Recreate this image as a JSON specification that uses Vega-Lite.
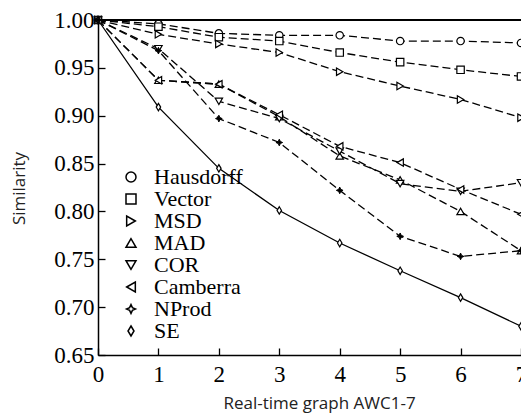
{
  "$schema": "https://vega.github.io/schema/vega-lite/v6.json",
  "width": 423,
  "height": 335,
  "autosize": "none",
  "padding": {"left": 98, "top": 20, "right": 0, "bottom": 61},
  "background": "white",
  "data": {"values": [
    {"x": 0, "series": "Hausdorff", "v": 1.0}, {"x": 1, "series": "Hausdorff", "v": 0.996}, {"x": 2, "series": "Hausdorff", "v": 0.986}, {"x": 3, "series": "Hausdorff", "v": 0.984}, {"x": 4, "series": "Hausdorff", "v": 0.984}, {"x": 5, "series": "Hausdorff", "v": 0.978}, {"x": 6, "series": "Hausdorff", "v": 0.978}, {"x": 7, "series": "Hausdorff", "v": 0.976},
    {"x": 0, "series": "Vector", "v": 1.0}, {"x": 1, "series": "Vector", "v": 0.993}, {"x": 2, "series": "Vector", "v": 0.982}, {"x": 3, "series": "Vector", "v": 0.978}, {"x": 4, "series": "Vector", "v": 0.966}, {"x": 5, "series": "Vector", "v": 0.956}, {"x": 6, "series": "Vector", "v": 0.948}, {"x": 7, "series": "Vector", "v": 0.941},
    {"x": 0, "series": "MSD", "v": 1.0}, {"x": 1, "series": "MSD", "v": 0.985}, {"x": 2, "series": "MSD", "v": 0.975}, {"x": 3, "series": "MSD", "v": 0.966}, {"x": 4, "series": "MSD", "v": 0.946}, {"x": 5, "series": "MSD", "v": 0.931}, {"x": 6, "series": "MSD", "v": 0.917}, {"x": 7, "series": "MSD", "v": 0.898},
    {"x": 0, "series": "MAD", "v": 1.0}, {"x": 1, "series": "MAD", "v": 0.937}, {"x": 2, "series": "MAD", "v": 0.933}, {"x": 3, "series": "MAD", "v": 0.899}, {"x": 4, "series": "MAD", "v": 0.858}, {"x": 5, "series": "MAD", "v": 0.833}, {"x": 6, "series": "MAD", "v": 0.800}, {"x": 7, "series": "MAD", "v": 0.759},
    {"x": 0, "series": "COR", "v": 1.0}, {"x": 1, "series": "COR", "v": 0.970}, {"x": 2, "series": "COR", "v": 0.915}, {"x": 3, "series": "COR", "v": 0.897}, {"x": 4, "series": "COR", "v": 0.863}, {"x": 5, "series": "COR", "v": 0.829}, {"x": 6, "series": "COR", "v": 0.821}, {"x": 7, "series": "COR", "v": 0.830},
    {"x": 0, "series": "Camberra", "v": 1.0}, {"x": 1, "series": "Camberra", "v": 0.937}, {"x": 2, "series": "Camberra", "v": 0.933}, {"x": 3, "series": "Camberra", "v": 0.901}, {"x": 4, "series": "Camberra", "v": 0.868}, {"x": 5, "series": "Camberra", "v": 0.851}, {"x": 6, "series": "Camberra", "v": 0.823}, {"x": 7, "series": "Camberra", "v": 0.797},
    {"x": 0, "series": "NProd", "v": 1.0}, {"x": 1, "series": "NProd", "v": 0.968}, {"x": 2, "series": "NProd", "v": 0.897}, {"x": 3, "series": "NProd", "v": 0.872}, {"x": 4, "series": "NProd", "v": 0.822}, {"x": 5, "series": "NProd", "v": 0.774}, {"x": 6, "series": "NProd", "v": 0.753}, {"x": 7, "series": "NProd", "v": 0.759},
    {"x": 0, "series": "SE", "v": 1.0}, {"x": 1, "series": "SE", "v": 0.909}, {"x": 2, "series": "SE", "v": 0.845}, {"x": 3, "series": "SE", "v": 0.801}, {"x": 4, "series": "SE", "v": 0.767}, {"x": 5, "series": "SE", "v": 0.738}, {"x": 6, "series": "SE", "v": 0.710}, {"x": 7, "series": "SE", "v": 0.680}
  ]},
  "layer": [
    {
      "transform": [{"filter": "datum.series !== 'SE'"}],
      "mark": {"type": "line", "color": "black", "strokeWidth": 1.3, "strokeDash": [8, 4]},
      "encoding": {
        "x": {"field": "x", "type": "quantitative", "scale": {"domain": [0, 7], "nice": false},
          "axis": {"values": [0, 1, 2, 3, 4, 5, 6, 7], "format": "d", "labelFlush": false, "labelOverlap": false, "labelPadding": 15,
            "title": "Real-time graph AWC1-7", "titleX": 221, "titleY": 53, "titleBaseline": "alphabetic"}},
        "y": {"field": "v", "type": "quantitative", "scale": {"domain": [0.65, 1.0], "nice": false, "zero": false},
          "axis": {"values": [0.65, 0.7, 0.75, 0.8, 0.85, 0.9, 0.95, 1.0], "format": ".2f", "labelPadding": 11, "labelOverlap": false,
            "title": "Similarity", "titleX": -70, "titleY": 168, "titleBaseline": "bottom"}},
        "detail": {"field": "series", "type": "nominal"}
      }
    },
    {
      "transform": [{"filter": "datum.series === 'SE'"}],
      "mark": {"type": "line", "color": "black", "strokeWidth": 1.3},
      "encoding": {
        "x": {"field": "x", "type": "quantitative"},
        "y": {"field": "v", "type": "quantitative"}
      }
    },
    {
      "transform": [{"filter": "datum.series !== 'NProd'"}],
      "mark": {"type": "point", "filled": false, "fill": "white", "stroke": "black", "strokeWidth": 1.2, "opacity": 1, "size": 55},
      "encoding": {
        "x": {"field": "x", "type": "quantitative"},
        "y": {"field": "v", "type": "quantitative"},
        "shape": {"field": "series", "type": "nominal",
          "scale": {"domain": ["Hausdorff", "Vector", "MSD", "MAD", "COR", "Camberra", "NProd", "SE"],
            "range": ["circle", "square", "triangle-right", "triangle-up", "triangle-down", "triangle-left",
              "M0,-0.9L0.28,-0.28L0.9,0L0.28,0.28L0,0.9L-0.28,0.28L-0.9,0L-0.28,-0.28Z",
              "M0,-1L0.6,0L0,1L-0.6,0Z"]},
          "legend": {"title": null, "orient": "none", "legendX": 22, "legendY": 146, "padding": 0,
            "labelFont": "Liberation Serif", "labelFontSize": 22, "labelColor": "black", "labelOffset": 12, "labelLimit": 300,
            "symbolSize": 100, "rowPadding": 0,
            "encode": {"symbols": {
              "shape": {"value": {"expr": "datum.value === 'Hausdorff' ? 'M-3.6,0H-1.9M-1.4,0H-0.75M0.75,0H1.4M1.9,0H3.6M0.75,0A0.75,0.75,0,1,1,-0.75,0A0.75,0.75,0,1,1,0.75,0Z' : datum.value === 'Vector' ? 'M-3.6,0H-1.9M-1.4,0H-0.75M0.75,0H1.4M1.9,0H3.6M-0.65,-0.65H0.65V0.65H-0.65Z' : datum.value === 'MSD' ? 'M-3.6,0H-1.9M-1.4,0H-0.75M0.75,0H1.4M1.9,0H3.6M-0.65,-0.75L0.75,0L-0.65,0.75Z' : datum.value === 'MAD' ? 'M-3.6,0H-1.9M-1.4,0H-0.75M0.75,0H1.4M1.9,0H3.6M0,-0.75L0.75,0.65L-0.75,0.65Z' : datum.value === 'COR' ? 'M-3.6,0H-1.9M-1.4,0H-0.75M0.75,0H1.4M1.9,0H3.6M0,0.75L0.75,-0.65L-0.75,-0.65Z' : datum.value === 'Camberra' ? 'M-3.6,0H-1.9M-1.4,0H-0.75M0.75,0H1.4M1.9,0H3.6M0.65,-0.75L-0.75,0L0.65,0.75Z' : datum.value === 'NProd' ? 'M-3.6,0H-1.9M-1.4,0H-0.75M0.75,0H1.4M1.9,0H3.6M0,-0.8L0.25,-0.25L0.8,0L0.25,0.25L0,0.8L-0.25,0.25L-0.8,0L-0.25,-0.25Z' : 'M-3.6,0H-0.5M0.5,0H3.6M0,-0.9L0.5,0L0,0.9L-0.5,0Z'"}},
              "fill": {"value": {"expr": "datum.value === 'NProd' ? 'black' : 'white'"}}
            }}}
        }
      }
    },
    {
      "transform": [{"filter": "datum.series === 'NProd'"}],
      "mark": {"type": "point", "filled": true, "fill": "black", "stroke": "black", "strokeWidth": 1, "opacity": 1, "size": 55,
        "shape": "M0,-0.9L0.28,-0.28L0.9,0L0.28,0.28L0,0.9L-0.28,0.28L-0.9,0L-0.28,-0.28Z"},
      "encoding": {
        "x": {"field": "x", "type": "quantitative"},
        "y": {"field": "v", "type": "quantitative"}
      }
    },
    {
      "mark": {"type": "rule", "color": "black", "strokeWidth": 1.5},
      "encoding": {"y": {"datum": 1}}
    }
  ],
  "config": {
    "view": {"stroke": null},
    "axis": {"grid": false, "domainColor": "black", "domainWidth": 1.5, "tickColor": "black", "tickWidth": 1.3, "tickSize": -7,
      "labelFont": "Liberation Serif", "labelFontSize": 23, "labelColor": "black",
      "titleFont": "Open Sans", "titleFontSize": 17, "titleFontWeight": "normal", "titleColor": "#222"}
  }
}
